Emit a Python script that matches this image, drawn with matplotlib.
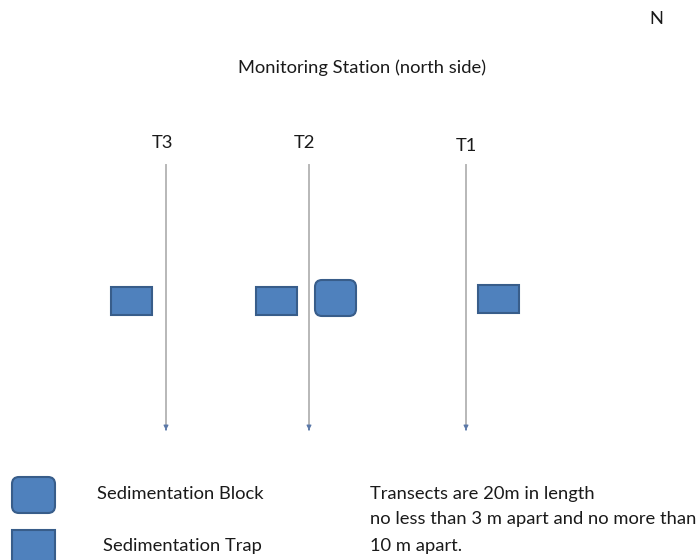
import matplotlib
matplotlib.use("Agg")
import matplotlib.pyplot as plt
from matplotlib.patches import FancyBboxPatch, Rectangle

W, H = 697, 560
FILL = "#4F81BD"
EDGE = "#385D8A"

# Transects
transect_names = ["T3", "T2", "T1"]
transect_x = [166, 309, 466]
label_y = [143, 143, 146]
transect_top = 165
transect_bottom = 433

# Sampling devices: (kind, x_left, y_top, width, height)
device_kind = ["trap", "trap", "block", "trap"]
device_x = [111, 256, 315, 478]
device_y = [287, 287, 280, 285]
device_w = [41, 41, 41, 41]
device_h = [28, 28, 36, 28]

legend_kinds = ["block", "trap"]
legend_labels = ["Sedimentation Block", "Sedimentation Trap"]
note_lines = ["Transects are 20m in length",
              "no less than 3 m apart and no more than",
              "10 m apart."]

plt.rcParams['font.family'] = ['Lato', 'DejaVu Sans']
fig = plt.figure(figsize=(W / 100, H / 100), dpi=100)
ax = fig.add_axes([0, 0, 1, 1])
ax.set_xlim(0, W)
ax.set_ylim(H, 0)
ax.axis("off")

fs = 13.2
TC = "#1a1a1a"
ax.text(656, 19, "N", ha="center", va="center", fontsize=fs, color=TC)
ax.text(362, 68, "Monitoring Station (north side)", ha="center", va="center",
        fontsize=fs, color=TC)

for name, x, ly in zip(transect_names, transect_x, label_y):
    ax.text(x - 4 if name != "T1" else x, ly, name, ha="center", va="center",
            fontsize=fs, color=TC)
    ax.plot([x, x], [transect_top, transect_bottom - 4], color="#b8b8b8", lw=1.4)
    ax.annotate("", xy=(x, transect_bottom), xytext=(x, transect_bottom - 6),
                arrowprops=dict(arrowstyle="-|>", color="#5a78a8", lw=0.8,
                                mutation_scale=7))


def draw(kind, x, y, w, h):
    if kind == "block":
        p = FancyBboxPatch((x + 7, y + 7), w - 14, h - 14,
                           boxstyle="round,pad=7", fc=FILL, ec=EDGE, lw=1.5)
    else:
        p = Rectangle((x, y), w, h, fc=FILL, ec=EDGE, lw=1.5)
    ax.add_patch(p)


for k, x, y, w, h in zip(device_kind, device_x, device_y, device_w, device_h):
    draw(k, x, y, w, h)

# Legend
draw(legend_kinds[0], 12, 477, 43, 36)
draw(legend_kinds[1], 12, 530, 43, 36)
ax.text(97, 494, legend_labels[0], ha="left", va="center", fontsize=fs, color=TC)
ax.text(103, 546, legend_labels[1], ha="left", va="center", fontsize=fs, color=TC)

for t, y in zip(note_lines, [494, 519, 546]):
    ax.text(370, y, t, ha="left", va="center", fontsize=fs, color=TC)

fig.savefig("out.png", dpi=100)
